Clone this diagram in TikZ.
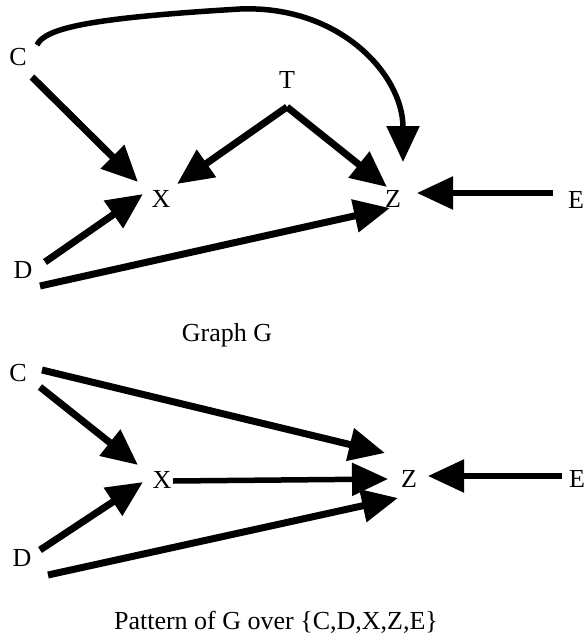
\documentclass[tikz,border=0pt]{standalone}
\usepackage{fontspec}
\setmainfont{Liberation Serif}
\usetikzlibrary{arrows.meta}
\begin{document}
\begin{tikzpicture}[x=1pt,y=-1pt,
  lbl/.style={inner sep=0pt,font=\fontsize{26}{30}\selectfont},
  captext/.style={inner sep=0pt,font=\fontsize{26}{30}\selectfont},
  arr/.style={line width=7pt,-{Triangle[length=36pt,width=32pt]}},
  thinarr/.style={line width=5.5pt,-{Triangle[length=36pt,width=32pt]}}]
\useasboundingbox (0,0) rectangle (585,637);
% top graph
\node[lbl] (C1) at (18,57) {C};
\node[lbl] (T1) at (287,80) {T};
\node[lbl] (X1) at (161,199) {X};
\node[lbl] (Z1) at (393,199) {Z};
\node[lbl] (E1) at (576,200) {E};
\node[lbl] (D1) at (23,270) {D};
\node[captext] (G1) at (227,335) {Graph G};
\draw[arr] ([shift={(14,20)}]C1.center) -- ([shift={(-23,-17)}]X1.center);
\draw[arr] ([shift={(0,27)}]T1.center) -- ([shift={(16,-15)}]X1.center);
\draw[arr] ([shift={(0,27)}]T1.center) -- ([shift={(-6,-12)}]Z1.center);
\draw[thinarr] ([shift={(19,-12)}]C1.center) .. controls (45,28) and (90,18) .. (240,9)
  .. controls (340,5) and (403,75) .. ([shift={(10,-37)}]Z1.center);
\draw[arr] ([shift={(22,-8)}]D1.center) -- ([shift={(-18,-5)}]X1.center);
\draw[arr] ([shift={(17,16)}]D1.center) -- ([shift={(-3,9)}]Z1.center);
\draw[thinarr] ([shift={(-23,-7)}]E1.center) -- ([shift={(24,-6)}]Z1.center);
% bottom graph
\node[lbl] (C2) at (18,373) {C};
\node[lbl] (X2) at (162,480) {X};
\node[lbl] (Z2) at (409,479) {Z};
\node[lbl] (E2) at (577,479) {E};
\node[lbl] (D2) at (22,558) {D};
\node[captext] (G2) at (276,622) {Pattern of G over \{C,D,X,Z,E\}};
\draw[arr] ([shift={(24,-3)}]C2.center) -- ([shift={(-24,-26)}]Z2.center);
\draw[arr] ([shift={(22,14)}]C2.center) -- ([shift={(-24,-15)}]X2.center);
\draw[thinarr] ([shift={(11,1)}]X2.center) -- ([shift={(-21,0)}]Z2.center);
\draw[arr] ([shift={(18,-8)}]D2.center) -- ([shift={(-19,2)}]X2.center);
\draw[arr] ([shift={(26,17)}]D2.center) -- ([shift={(-11,19)}]Z2.center);
\draw[thinarr] ([shift={(-15,-3)}]E2.center) -- ([shift={(19,-3)}]Z2.center);
\end{tikzpicture}
\end{document}
